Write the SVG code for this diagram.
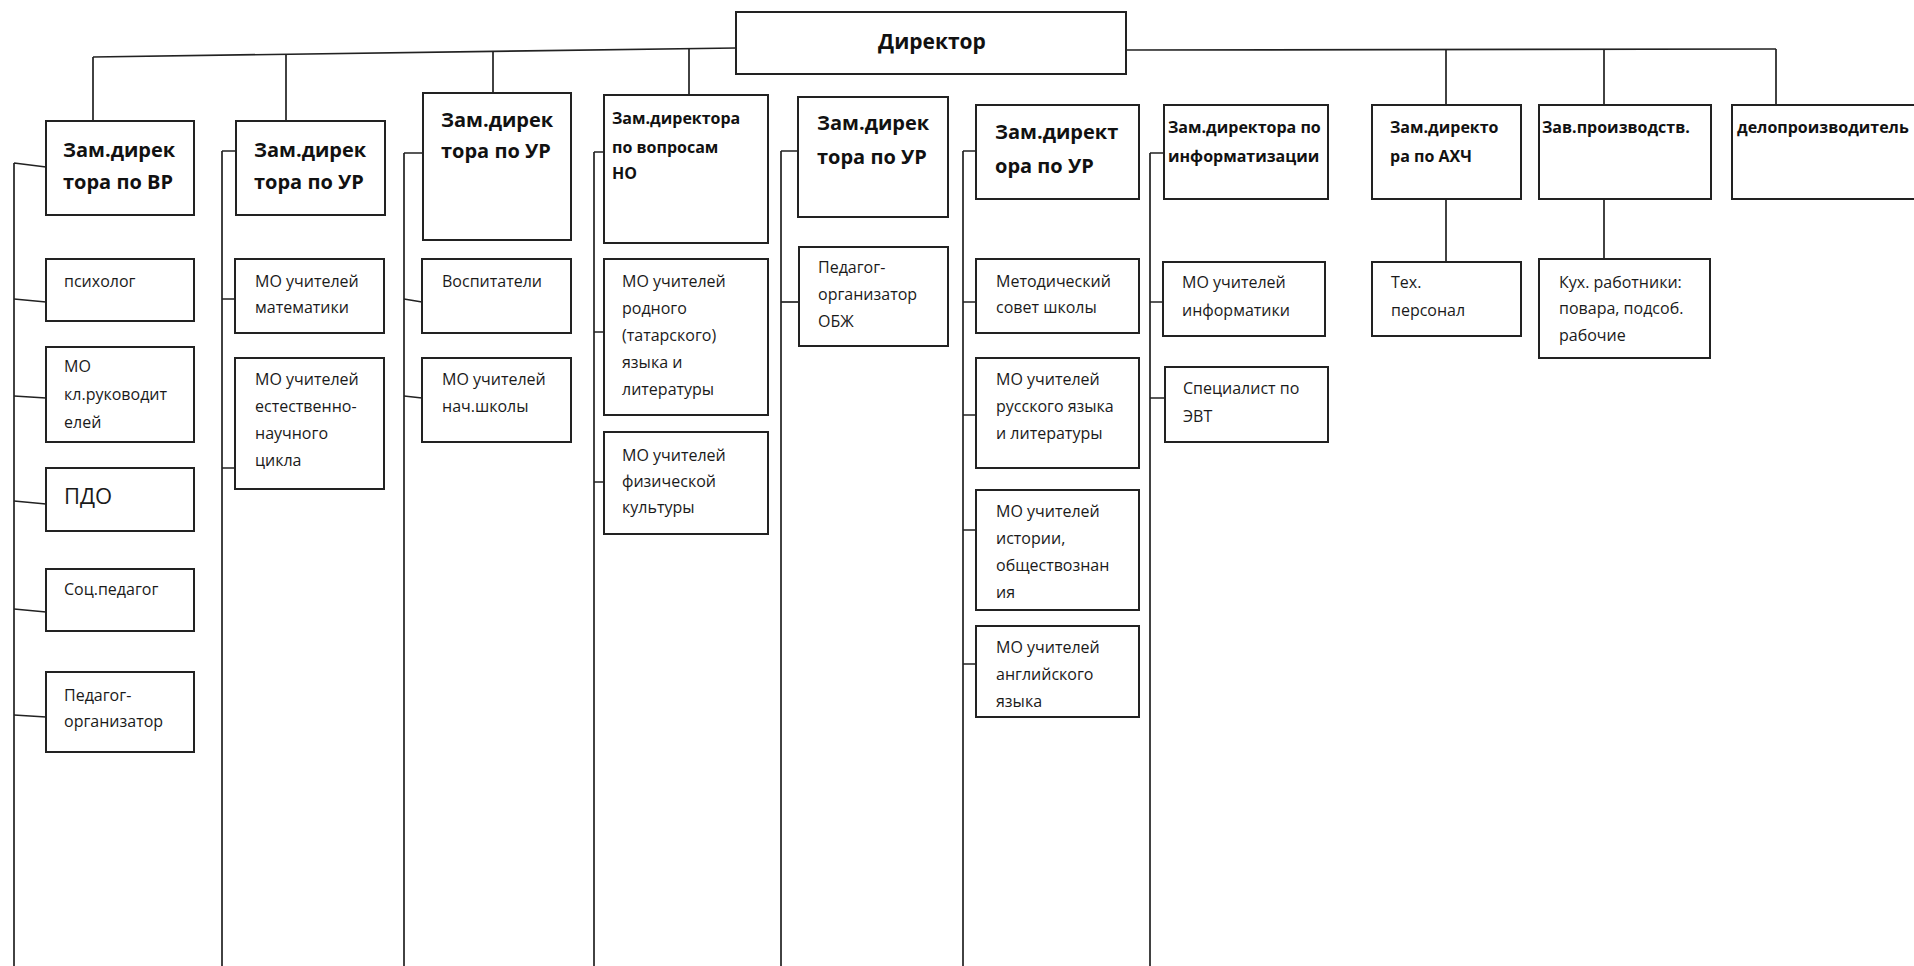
<svg xmlns="http://www.w3.org/2000/svg" width="1914" height="966" viewBox="0 0 1914 966">
<style>
.box{fill:#fff;stroke:#222;stroke-width:2}
.ln{fill:none;stroke:#222;stroke-width:1.7}
.h{font-family:"Open Sans","DejaVu Sans",sans-serif;font-weight:bold;fill:#111}
.h20{font-size:20px}
.h16{font-size:16px}
.t{font-family:"Open Sans","DejaVu Sans",sans-serif;font-size:16px;fill:#1a1a1a}
.big{font-size:22px}
</style>
<rect width="1914" height="966" fill="#fff"/>
<g id="connectors" class="ln">
<path d="M93 57 L736 48"/>
<path d="M1126 50 L1776 49"/>
<path d="M93 57 V121 M286 54 V121 M493 51 V93 M689 49 V95"/>
<path d="M1446 50 V105 M1604 50 V105 M1776 49 V105"/>
<path d="M14 163 V966 M14 163 L46 167"/>
<path d="M222 151 V966 M222 151 H236"/>
<path d="M404 153 V966 M404 153 H423"/>
<path d="M594 152 V966 M594 152 H604"/>
<path d="M781 151 V966 M781 151 H798"/>
<path d="M963 151 V966 M963 151 H976"/>
<path d="M1150 153 V966 M1150 153 H1164"/>
<path d="M14 299 L46 302 M14 396 L46 398 M14 501 L46 504 M14 609 L46 612 M14 715 L46 717"/>
<path d="M222 299 H235 M222 468 H235"/>
<path d="M404 299 L422 302 M404 396 L422 398"/>
<path d="M594 332 H604 M594 482 H604"/>
<path d="M781 302 H799"/>
<path d="M963 302 H976 M963 415 H976 M963 530 H976 M963 664 H976"/>
<path d="M1150 302 H1163 M1150 398 H1165"/>
<path d="M1446 199 V262 M1604 199 V259"/>
</g>
<g id="director"><rect class="box" x="736" y="12" width="390" height="62"/><text class="h" font-size="21" x="932" y="49" text-anchor="middle">Директор</text></g>
<g id="zam-vr"><rect class="box" x="46" y="121" width="148" height="94"/><text class="h h20" x="63" y="157">Зам.дирек</text><text class="h h20" x="63" y="189">тора по ВР</text></g>
<g id="zam-ur1"><rect class="box" x="236" y="121" width="149" height="94"/><text class="h h20" x="254" y="157">Зам.дирек</text><text class="h h20" x="254" y="189">тора по УР</text></g>
<g id="zam-ur2"><rect class="box" x="423" y="93" width="148" height="147"/><text class="h h20" x="441" y="127">Зам.дирек</text><text class="h h20" x="441" y="158">тора по УР</text></g>
<g id="zam-no"><rect class="box" x="604" y="95" width="164" height="148"/><text class="h h16" x="612" y="124">Зам.директора</text><text class="h h16" x="612" y="153">по вопросам</text><text class="h h16" x="612" y="179">НО</text></g>
<g id="zam-ur3"><rect class="box" x="798" y="97" width="150" height="120"/><text class="h h20" x="817" y="130">Зам.дирек</text><text class="h h20" x="817" y="164">тора по УР</text></g>
<g id="zam-ur4"><rect class="box" x="976" y="105" width="163" height="94"/><text class="h h20" x="995" y="139">Зам.директ</text><text class="h h20" x="995" y="173">ора по УР</text></g>
<g id="zam-inf"><rect class="box" x="1164" y="105" width="164" height="94"/><text class="h h16" x="1168" y="133">Зам.директора по</text><text class="h h16" x="1168" y="162">информатизации</text></g>
<g id="zam-ahch"><rect class="box" x="1372" y="105" width="149" height="94"/><text class="h h16" x="1390" y="133">Зам.директо</text><text class="h h16" x="1390" y="162">ра по АХЧ</text></g>
<g id="zav-proizv"><rect class="box" x="1539" y="105" width="172" height="94"/><text class="h h16" x="1542" y="133">Зав.производств.</text></g>
<g id="deloproizv"><rect class="box" x="1732" y="105" width="200" height="94"/><text class="h h16" x="1737" y="133">делопроизводитель</text></g>
<g id="psiholog"><rect class="box" x="46" y="259" width="148" height="62"/><text class="t" x="64" y="287">психолог</text></g>
<g id="mo-klruk"><rect class="box" x="46" y="347" width="148" height="95"/><text class="t" x="64" y="372">МО</text><text class="t" x="64" y="400">кл.руководит</text><text class="t" x="64" y="428">елей</text></g>
<g id="pdo"><rect class="box" x="46" y="468" width="148" height="63"/><text class="t big" x="64" y="504">ПДО</text></g>
<g id="socped"><rect class="box" x="46" y="569" width="148" height="62"/><text class="t" x="64" y="595">Соц.педагог</text></g>
<g id="pedorg"><rect class="box" x="46" y="672" width="148" height="80"/><text class="t" x="64" y="701">Педагог-</text><text class="t" x="64" y="727">организатор</text></g>
<g id="mo-mat"><rect class="box" x="235" y="259" width="149" height="74"/><text class="t" x="255" y="287">МО учителей</text><text class="t" x="255" y="313">математики</text></g>
<g id="mo-est"><rect class="box" x="235" y="358" width="149" height="131"/><text class="t" x="255" y="385">МО учителей</text><text class="t" x="255" y="412">естественно-</text><text class="t" x="255" y="439">научного</text><text class="t" x="255" y="466">цикла</text></g>
<g id="vospit"><rect class="box" x="422" y="259" width="149" height="74"/><text class="t" x="442" y="287">Воспитатели</text></g>
<g id="mo-nach"><rect class="box" x="422" y="358" width="149" height="84"/><text class="t" x="442" y="385">МО учителей</text><text class="t" x="442" y="412">нач.школы</text></g>
<g id="mo-rodn"><rect class="box" x="604" y="259" width="164" height="156"/><text class="t" x="622" y="287">МО учителей</text><text class="t" x="622" y="314">родного</text><text class="t" x="622" y="341">(татарского)</text><text class="t" x="622" y="368">языка и</text><text class="t" x="622" y="395">литературы</text></g>
<g id="mo-fiz"><rect class="box" x="604" y="432" width="164" height="102"/><text class="t" x="622" y="461">МО учителей</text><text class="t" x="622" y="487">физической</text><text class="t" x="622" y="513">культуры</text></g>
<g id="pedorg-obzh"><rect class="box" x="799" y="247" width="149" height="99"/><text class="t" x="818" y="273">Педагог-</text><text class="t" x="818" y="300">организатор</text><text class="t" x="818" y="327">ОБЖ</text></g>
<g id="metsovet"><rect class="box" x="976" y="259" width="163" height="74"/><text class="t" x="996" y="287">Методический</text><text class="t" x="996" y="313">совет школы</text></g>
<g id="mo-rus"><rect class="box" x="976" y="358" width="163" height="110"/><text class="t" x="996" y="385">МО учителей</text><text class="t" x="996" y="412">русского языка</text><text class="t" x="996" y="439">и литературы</text></g>
<g id="mo-ist"><rect class="box" x="976" y="490" width="163" height="120"/><text class="t" x="996" y="517">МО учителей</text><text class="t" x="996" y="544">истории,</text><text class="t" x="996" y="571">обществознан</text><text class="t" x="996" y="598">ия</text></g>
<g id="mo-angl"><rect class="box" x="976" y="626" width="163" height="91"/><text class="t" x="996" y="653">МО учителей</text><text class="t" x="996" y="680">английского</text><text class="t" x="996" y="707">языка</text></g>
<g id="mo-inf"><rect class="box" x="1163" y="262" width="162" height="74"/><text class="t" x="1182" y="288">МО учителей</text><text class="t" x="1182" y="316">информатики</text></g>
<g id="spec-evt"><rect class="box" x="1165" y="367" width="163" height="75"/><text class="t" x="1183" y="394">Специалист по</text><text class="t" x="1183" y="422">ЭВТ</text></g>
<g id="teh-pers"><rect class="box" x="1372" y="262" width="149" height="74"/><text class="t" x="1391" y="288">Тех.</text><text class="t" x="1391" y="316">персонал</text></g>
<g id="kuh"><rect class="box" x="1539" y="259" width="171" height="99"/><text class="t" x="1559" y="288">Кух. работники:</text><text class="t" x="1559" y="314">повара, подсоб.</text><text class="t" x="1559" y="341">рабочие</text></g>
</svg>
